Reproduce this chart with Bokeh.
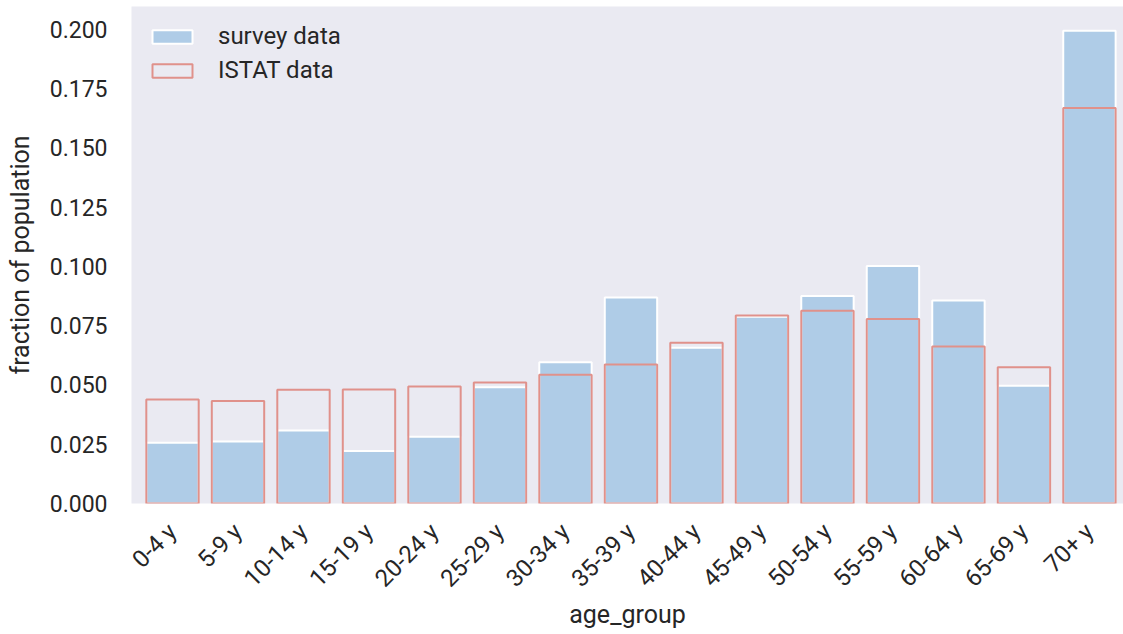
import math
from bokeh.plotting import figure
from bokeh.models import ColumnDataSource, FixedTicker, Range1d, Legend, LegendItem, NumeralTickFormatter
from bokeh.embed import file_html
from bokeh.resources import INLINE

categories = ["0-4 y", "5-9 y", "10-14 y", "15-19 y", "20-24 y", "25-29 y", "30-34 y",
              "35-39 y", "40-44 y", "45-49 y", "50-54 y", "55-59 y", "60-64 y", "65-69 y", "70+ y"]
survey = [0.0256, 0.0262, 0.0308, 0.0221, 0.0282, 0.0491, 0.0596, 0.0869, 0.0657, 0.0788,
          0.0875, 0.1002, 0.0856, 0.0497, 0.1995]
istat = [0.0439, 0.0433, 0.0480, 0.0481, 0.0494, 0.0511, 0.0543, 0.0586, 0.0678, 0.0793,
         0.0813, 0.0778, 0.0662, 0.0575, 0.1669]
y_ticks = [0.0, 0.025, 0.05, 0.075, 0.1, 0.125, 0.15, 0.175, 0.2]

FONT = "Roboto"
TXT = "#262626"

xs = list(range(len(categories)))
src = ColumnDataSource(dict(x=xs, survey=survey, istat=istat, cat=categories))

p = figure(width=1123, height=634, output_backend="svg", toolbar_location=None,
           x_range=Range1d(-0.626, 14.52), y_range=Range1d(0, 0.2097),
           min_border_left=131, min_border_right=0, min_border_top=6, min_border_bottom=131)
p.background_fill_color = "#EAEAF2"
p.border_fill_color = "white"
p.outline_line_color = None
p.xgrid.visible = False
p.ygrid.visible = False

r1 = p.vbar(x="x", top="survey", width=0.8, source=src, fill_color="#AFCCE7",
            line_color="white", line_width=2)
r2 = p.vbar(x="x", top="istat", width=0.8, source=src, fill_alpha=0,
            line_color="#E0918B", line_width=2)

for ax in (p.xaxis[0], p.yaxis[0]):
    ax.axis_line_color = None
    ax.major_tick_line_color = None
    ax.minor_tick_line_color = None
    ax.major_tick_out = 0
    ax.major_tick_in = 0
    ax.major_label_text_font = FONT
    ax.major_label_text_color = TXT
    ax.axis_label_text_font = FONT
    ax.axis_label_text_font_size = "25px"
    ax.axis_label_text_color = TXT
    ax.axis_label_text_font_style = "normal"

p.yaxis.ticker = FixedTicker(ticks=y_ticks)
p.yaxis.formatter = NumeralTickFormatter(format="0.000")
p.yaxis.major_label_text_font_size = "23px"
p.yaxis.major_label_standoff = 24
p.yaxis.axis_label = "fraction of population"
p.yaxis.axis_label_standoff = 12

p.xaxis.ticker = FixedTicker(ticks=xs)
p.xaxis.major_label_overrides = {i: c for i, c in enumerate(categories)}
p.xaxis.major_label_orientation = math.pi / 4
p.xaxis.major_label_text_font_size = "24px"
p.xaxis.major_label_standoff = 24
p.xaxis.axis_label = "age_group"
p.xaxis.axis_label_standoff = -5

legend = Legend(items=[LegendItem(label="survey data", renderers=[r1]),
                       LegendItem(label="ISTAT data", renderers=[r2])],
                location="top_left")
legend.background_fill_alpha = 0
legend.border_line_alpha = 0
legend.margin = 8
legend.padding = 8
legend.glyph_width = 50
legend.glyph_height = 17
legend.label_height = 17
legend.spacing = 6
legend.label_standoff = 21
legend.label_text_font = FONT
legend.label_text_font_size = "24px"
legend.label_text_color = TXT
p.add_layout(legend)

open("out.html", "w").write(file_html(p, INLINE))
